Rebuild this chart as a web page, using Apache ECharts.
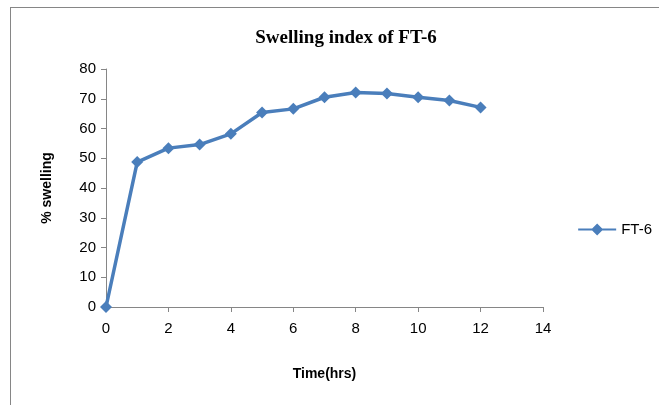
<!DOCTYPE html>
<html>
<head>
<meta charset="utf-8">
<script src="https://cdn.jsdelivr.net/npm/echarts@6/dist/echarts.min.js"></script>
<style>
  html, body { margin: 0; padding: 0; background: #fff; }
  #chart { width: 659px; height: 405px; }
  #frame { position: absolute; left: 10px; top: 7px; width: 660px; height: 410px; border: 1px solid #868686; box-sizing: border-box; pointer-events: none; }
</style>
</head>
<body>
<div id="chart"></div>
<div id="frame"></div>
<script>
// Swelling time course of formulation FT-6
const timeHrs = [0, 1, 2, 3, 4, 5, 6, 7, 8, 9, 10, 11, 12];
const swellingPct = [0, 48.7, 53.4, 54.6, 58.2, 65.4, 66.6, 70.5, 72.1, 71.8, 70.5, 69.4, 67.1];
const seriesName = 'FT-6';
const chartTitle = 'Swelling index of FT-6';

const lineColor = '#4a7ebb';
const chart = echarts.init(document.getElementById('chart'), null, { renderer: 'canvas' });

// legend glyph: short line with a diamond in the middle (38 x 12 box)
const legendIcon = 'path://M0,5 L14,5 L19,0 L24,5 L38,5 L38,7 L24,7 L19,12 L14,7 L0,7 Z';

chart.setOption({
  animation: false,
  title: {
    text: chartTitle,
    left: 341, top: 24, textAlign: 'center',
    textStyle: { fontFamily: 'Liberation Serif', fontWeight: 'bold', fontSize: 19, color: '#000' }
  },
  legend: {
    right: 2, top: 217,
    itemWidth: 38, itemHeight: 12, itemGap: 4,
    data: [{ name: seriesName, icon: legendIcon }],
    textStyle: { fontFamily: 'Liberation Sans', fontSize: 15, color: '#000' }
  },
  grid: { left: 106, right: 116, top: 69, bottom: 98 },
  xAxis: {
    type: 'value', min: 0, max: 14, interval: 2,
    name: 'Time(hrs)', nameLocation: 'middle', nameGap: 60,
    nameTextStyle: { fontFamily: 'Liberation Sans', fontWeight: 'bold', fontSize: 14, color: '#000' },
    axisLine: { lineStyle: { color: '#868686', width: 1 } },
    axisTick: { show: true, length: 5, lineStyle: { color: '#868686' } },
    axisLabel: { fontFamily: 'Liberation Sans', fontSize: 15, color: '#000', margin: 14 },
    splitLine: { show: false }
  },
  yAxis: {
    type: 'value', min: 0, max: 80, interval: 10,
    name: '% swelling', nameLocation: 'middle', nameGap: 52, nameRotate: 90,
    nameTextStyle: { fontFamily: 'Liberation Sans', fontWeight: 'bold', fontSize: 14, color: '#000' },
    axisLine: { show: true, lineStyle: { color: '#868686', width: 1 } },
    axisTick: { show: true, inside: false, length: 5, lineStyle: { color: '#868686' } },
    axisLabel: { fontFamily: 'Liberation Sans', fontSize: 15, color: '#000', margin: 10 },
    splitLine: { show: false }
  },
  series: [{
    name: seriesName,
    type: 'line',
    data: timeHrs.map((t, i) => [t, swellingPct[i]]),
    symbol: 'diamond', symbolSize: 12,
    lineStyle: { color: lineColor, width: 3.5 },
    itemStyle: { color: lineColor },
    clip: false
  }]
});
</script>
</body>
</html>
